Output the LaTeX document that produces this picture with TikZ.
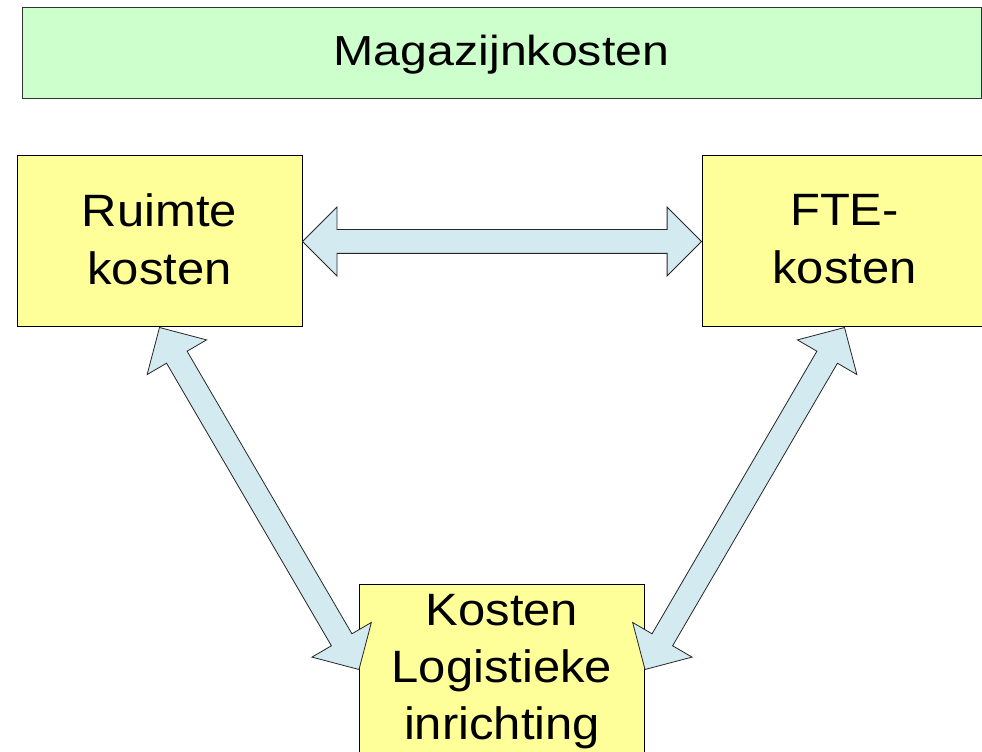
\documentclass[tikz,border=0pt]{standalone}
\usepackage{fontspec}
\setmainfont{Liberation Sans}[FakeStretch=1.08]
\newfontfamily\titlefont{Liberation Sans}[FakeStretch=1.15]
\usetikzlibrary{shapes.arrows,calc}
\definecolor{boxgreen}{HTML}{CCFFCC}
\definecolor{boxyellow}{HTML}{FFFF99}
\definecolor{arrowblue}{HTML}{D2EAF0}
\tikzset{
  titlebox/.style={draw=black!80, line width=0.75pt, fill=boxgreen,
    minimum width=719.25pt, minimum height=68.25pt, inner sep=0pt,
    font=\titlefont\fontsize{31.5}{40}\selectfont, text depth=5.25pt},
  costbox/.style={draw=black, line width=0.75pt, fill=boxyellow,
    minimum width=213.75pt, minimum height=128.25pt, inner sep=0pt,
    align=center, font=\fontsize{34}{43}\selectfont, text depth=3.75pt},
  dblarrow/.style={double arrow, draw=black!85, line width=0.6pt, fill=arrowblue,
    double arrow head extend=16.875pt, double arrow tip angle=90,
    inner xsep=0pt, inner ysep=8.625pt, minimum width=0pt, outer sep=0pt}
}
\newcommand\blocklink[3]{%
  \path let \p1=(#1), \p2=(#2),
    \n1={atan2(\y2-\y1,\x2-\x1)}, \n2={veclen(\x2-\x1,\y2-\y1)} in
    node[dblarrow, minimum height=\n2, rotate=\n1] (#3) at ($(\p1)!0.5!(\p2)$) {};}
\begin{document}
\begin{tikzpicture}[x=0.75pt,y=-0.75pt]
  \useasboundingbox (0,0) rectangle (982,752);
  \clip (0,0) rectangle (982,752);
  \node[titlebox] (title) at (501.5,53.5) {Magazijnkosten};
  \node[costbox] (ruimte) at (159.5,241.5) {Ruimte\\kosten};
  \node[costbox] (fte) at (844.5,241.5) {FTE-\\kosten};
  \node[costbox] (logistiek) at (502,669.5) {Kosten\\Logistieke\\inrichting};
  \blocklink{ruimte.east}{fte.west}{arrowtop}
  \blocklink{ruimte.south}{logistiek.west}{arrowleft}
  \blocklink{fte.south}{logistiek.east}{arrowright}
\end{tikzpicture}
\end{document}
